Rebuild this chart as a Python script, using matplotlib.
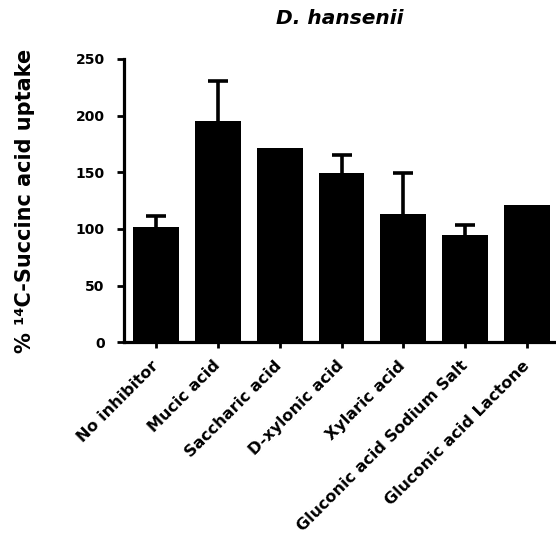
import numpy as np
import matplotlib
matplotlib.use('Agg')
import matplotlib.pyplot as plt

# uptake data, % of control (mean + SD)
labels = ['No inhibitor', 'Mucic acid', 'Saccharic acid', 'D-xylonic acid',
          'Xylaric acid', 'Gluconic acid Sodium Salt', 'Gluconic acid Lactone']
means = [101.5, 195.3, 171.2, 149.5, 113.2, 95.0, 120.9]
errs = [9.5, 35.0, 0.0, 15.5, 36.0, 8.5, 0.0]

plt.rcParams['font.family'] = 'DejaVu Sans'
plt.rcParams['font.weight'] = 'bold'

fig = plt.figure(figsize=(5.56, 5.57), dpi=100)
ax = fig.add_axes([0.223, 0.3855, 0.777, 0.5086])

x = np.arange(len(labels))
ax.bar(x, means, width=0.74, color='black', edgecolor='none', zorder=2)

# only draw the upper error bar where there is one
err = np.array(errs)
has = err > 0
eb = ax.errorbar(x[has], np.array(means)[has], yerr=[np.zeros(has.sum()), err[has]],
                 fmt='none', ecolor='black', elinewidth=2.6, capsize=7.5, capthick=2.6,
                 zorder=1)
# drop the lower cap so it doesn't poke out of the bar top
eb[1][0].set_visible(False)

ax.set_xlim(-0.52, 6.47)
ax.set_ylim(0, 250)
ax.set_yticks([0, 50, 100, 150, 200, 250])
ax.set_xticks(x)
ax.set_xticklabels(labels, rotation=45, ha='right', va='center',
                   rotation_mode='anchor', fontsize=11.5, fontweight='bold')

for s in ['top', 'right']:
    ax.spines[s].set_visible(False)
for s in ['left', 'bottom']:
    ax.spines[s].set_linewidth(2.3)

ax.tick_params(axis='y', length=5, width=2, labelsize=10, pad=9)
ax.tick_params(axis='x', length=4, width=2, pad=11)

ax.set_ylabel('% ¹⁴C-Succinc acid uptake', fontsize=15, fontweight='bold')
ax.yaxis.set_label_coords(-0.205, 0.5)
ax.set_title('D. hansenii', fontsize=14.5, fontweight='bold', style='italic', pad=25)

fig.savefig('out.png', dpi=100)
